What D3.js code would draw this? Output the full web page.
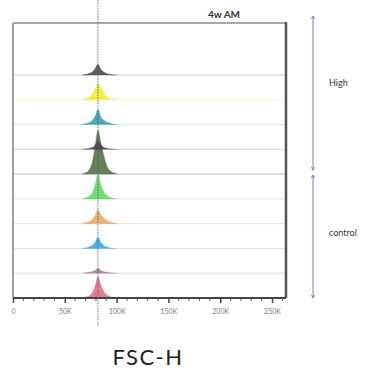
<!DOCTYPE html>
<html>
<head>
<meta charset="utf-8">
<script src="https://cdn.jsdelivr.net/npm/d3@7/dist/d3.min.js"></script>
<style>
  html, body { margin: 0; padding: 0; background: #fff; }
  svg { display: block; }
  text { font-family: Lato, "Open Sans", sans-serif; }
</style>
</head>
<body>
<svg id="chart" width="370" height="374"></svg>
<script>
// FSC-H histogram bins (centres, in channel units)
const binCenters = [67000, 70000, 73000, 76000, 79000, 82000, 85000, 88000, 91000, 94000, 97000, 100000];

// Samples stacked top to bottom
const sampleNames = ["H1", "H2", "H3", "H4", "H5", "C1", "C2", "C3", "C4", "C5"];
const sampleColors = ["#3c4247", "#eded2e", "#2a9ea6", "#4a3d52", "#4c6a38",
                      "#5cd65c", "#e8a468", "#35a4e0", "#a27a94", "#e4647f"];
const baselineColors = ["#cccccc", "#f7f4c8", "#cfe8ea", "#d8d0d8", "#c4c4c4",
                        "#dcefdc", "#f8e0cc", "#d4e8f4", "#eadbe3", "#555555"];

// Event counts per bin for each sample
const countsH1 = [0, 1, 3, 6, 13, 24, 12, 6, 3, 1, 0, 0];
const countsH2 = [0, 2, 6, 12, 24, 36, 27, 14, 6, 2, 1, 0];
const countsH3 = [1, 2, 4, 8, 17, 33, 17, 9, 5, 3, 1, 0];
const countsH4 = [0, 1, 2, 4, 8, 18, 9, 4, 2, 1, 0, 0];
const countsH5 = [1, 3, 8, 22, 58, 98, 68, 38, 16, 7, 3, 1];
const countsC1 = [0, 2, 5, 12, 29, 54, 31, 15, 7, 3, 1, 0];
const countsC2 = [1, 2, 4, 8, 17, 30, 19, 12, 7, 4, 2, 1];
const countsC3 = [0, 1, 3, 6, 13, 25, 13, 6, 3, 1, 0, 0];
const countsC4 = [0, 1, 2, 3, 6, 11, 6, 3, 2, 1, 0, 0];
const countsC5 = [0, 2, 4, 10, 25, 47, 27, 13, 6, 3, 1, 0];
const allCounts = [countsH1, countsH2, countsH3, countsH4, countsH5,
                   countsC1, countsC2, countsC3, countsC4, countsC5];

// Axis ticks
const majorTicks = [0, 50000, 100000, 150000, 200000, 250000];
const tickLabels = ["0", "50K", "100K", "150K", "200K", "250K"];
const medianValue = 82000;

// Group brackets on the right
const groupNames = ["High", "control"];
const groupEnd = [4, 9];     // last row index of each group

const svg = d3.select("#chart");
const frame = { left: 13, top: 23, right: 286, bottom: 298 };

const x = d3.scaleLinear().domain([0, 262144]).range([frame.left, frame.left + 271.6]);
const rowY = d3.scaleLinear().domain([0, 9]).range([75, frame.bottom]);
const h = d3.scaleLinear().domain([0, 100]).range([0, 45]);

// Baselines for each row
svg.append("g").selectAll("line")
  .data(d3.range(9))
  .join("line")
  .attr("x1", frame.left).attr("x2", frame.right)
  .attr("y1", i => rowY(i)).attr("y2", i => rowY(i))
  .attr("stroke", i => baselineColors[i])
  .attr("stroke-width", 1);

// Histograms (drawn bottom row first so upper rows overlay)
const area = d3.area()
  .x(d => x(d[0]))
  .y0(d => d[2])
  .y1(d => d[2] - h(d[1]))
  .curve(d3.curveMonotoneX);

const order = d3.range(10).reverse();
svg.append("g").selectAll("path")
  .data(order)
  .join("path")
  .attr("d", i => area(binCenters.map((b, k) => [b, allCounts[i][k], rowY(i)])))
  .attr("fill", i => sampleColors[i])
  .attr("fill-opacity", 0.85)
  .attr("stroke", i => sampleColors[i])
  .attr("stroke-opacity", 0.5)
  .attr("stroke-width", 0.6);

// Frame
svg.append("line").attr("x1", frame.left).attr("x2", frame.right)
  .attr("y1", frame.top).attr("y2", frame.top)
  .attr("stroke", "#8a8a8a").attr("stroke-width", 1.5);
svg.append("line").attr("x1", frame.left).attr("x2", frame.left)
  .attr("y1", frame.top).attr("y2", frame.bottom)
  .attr("stroke", "#a0a0a0").attr("stroke-width", 2);
svg.append("line").attr("x1", frame.right).attr("x2", frame.right)
  .attr("y1", frame.top - 1).attr("y2", frame.bottom)
  .attr("stroke", "#555").attr("stroke-width", 2.5);

// X axis
const axis = d3.axisBottom(x)
  .tickValues(majorTicks)
  .tickFormat((d, i) => tickLabels[i])
  .tickSize(5)
  .tickPadding(6);
const gAxis = svg.append("g").attr("transform", `translate(0,${frame.bottom})`).call(axis);
gAxis.select(".domain").attr("stroke", "#444").attr("stroke-width", 2)
  .attr("d", `M${frame.left},0H${frame.right}`);
gAxis.selectAll(".tick line").attr("stroke", "#444").attr("stroke-width", 1.5);
gAxis.selectAll(".tick text").attr("fill", "#777").style("font-size", "7px")
  .style("font-family", "Lato, sans-serif");
const minor = d3.range(10000, 262144, 10000).filter(v => v % 50000 !== 0);
gAxis.append("g").selectAll("line").data(minor).join("line")
  .attr("x1", d => x(d)).attr("x2", d => x(d))
  .attr("y1", 0).attr("y2", 3)
  .attr("stroke", "#555").attr("stroke-width", 1);

// Median marker
svg.append("line")
  .attr("x1", x(medianValue)).attr("x2", x(medianValue))
  .attr("y1", 0).attr("y2", 326)
  .attr("stroke", "#4a5a7a").attr("stroke-width", 0.9)
  .attr("stroke-dasharray", "1.5,1.2");

// Title and axis label
svg.append("text").attr("x", 224).attr("y", 18).attr("text-anchor", "middle")
  .style("font-size", "10px").style("font-weight", "bold").attr("fill", "#333")
  .text("4w AM");
svg.append("text").attr("x", 148).attr("y", 365).attr("text-anchor", "middle")
  .style("font-size", "22px").style("letter-spacing", "1.5px").attr("fill", "#1e1e1e")
  .text("FSC-H");

// Group brackets
const bx = 313;
const bracketTop = [16, rowY(groupEnd[0]) + 1];
const bracketBot = [rowY(groupEnd[0]) - 4, rowY(groupEnd[1])];
const labelY = [86, 236];
const gb = svg.append("g");
groupNames.forEach((name, i) => {
  gb.append("line").attr("x1", bx).attr("x2", bx)
    .attr("y1", bracketTop[i]).attr("y2", bracketBot[i])
    .attr("stroke", "#6f85a8").attr("stroke-width", 1);
  [bracketTop[i], bracketBot[i]].forEach((y, j) => {
    const dir = j === 0 ? 1 : -1;
    gb.append("path")
      .attr("d", `M${bx - 1.6},${y + dir * 3}L${bx},${y}L${bx + 1.6},${y + dir * 3}`)
      .attr("fill", "none").attr("stroke", "#6f85a8").attr("stroke-width", 1);
  });
  gb.append("text").attr("x", 329).attr("y", labelY[i])
    .style("font-size", "9px").attr("fill", "#333").text(name);
});
</script>
</body>
</html>
